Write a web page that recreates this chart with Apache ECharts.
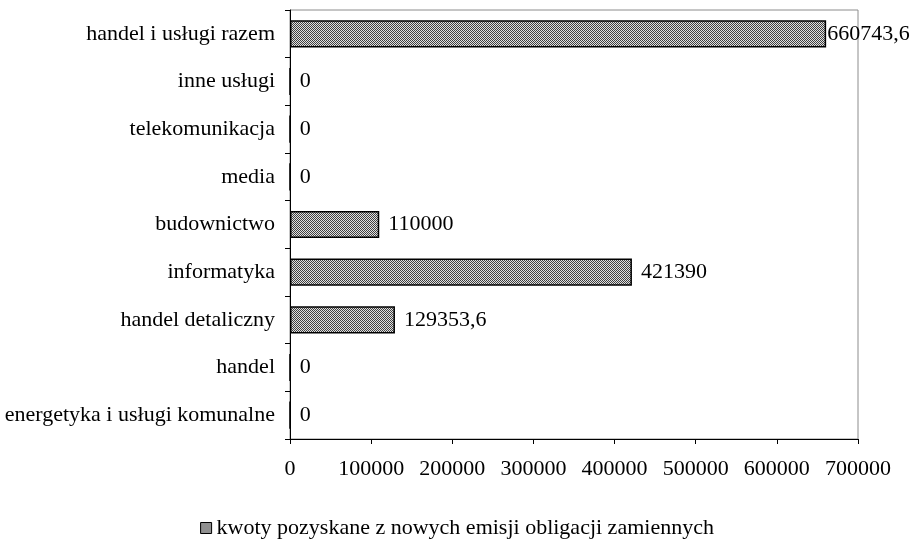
<!DOCTYPE html>
<html>
<head>
<meta charset="utf-8">
<script src="https://cdn.jsdelivr.net/npm/echarts@6/dist/echarts.min.js"></script>
<style>
html,body{margin:0;padding:0;background:#fff;}
#chart{width:914px;height:540px;}
</style>
</head>
<body>
<div id="chart"></div>
<script>
// Sectors, listed bottom-up as they appear on the category axis
const categories = [
  'energetyka i usługi komunalne',
  'handel',
  'handel detaliczny',
  'informatyka',
  'budownictwo',
  'media',
  'telekomunikacja',
  'inne usługi',
  'handel i usługi razem'
];
const amounts = [0, 0, 129353.6, 421390, 110000, 0, 0, 0, 660743.6];
const seriesName = 'kwoty pozyskane z nowych emisji obligacji zamiennych';
const xTicks = [0, 100000, 200000, 300000, 400000, 500000, 600000, 700000];

// Fine checkered fill used for the bars
function makePattern() {
  const c = document.createElement('canvas');
  c.width = 2; c.height = 2;
  const g = c.getContext('2d');
  g.fillStyle = '#e0e0e0'; g.fillRect(0, 0, 2, 2);
  g.fillStyle = '#404040';
  g.fillRect(0, 0, 1, 1);
  g.fillRect(1, 1, 1, 1);
  return c;
}
const fillPattern = { image: makePattern(), repeat: 'repeat' };

const font = '"Liberation Serif", "Times New Roman", serif';
const fontSize = 22;

// Polish decimal comma, no thousands separator
function fmt(v) {
  return String(v).replace('.', ',');
}

const chart = echarts.init(document.getElementById('chart'), null, { renderer: 'canvas' });
chart.setOption({
  animation: false,
  backgroundColor: '#fff',
  textStyle: { fontFamily: font },
  grid: { left: 290, right: 56, top: 10, bottom: 101, containLabel: false, show: true, borderColor: '#8c8c8c', borderWidth: 1 },
  legend: {
    top: 517,
    left: 'center',
    padding: 0,
    itemWidth: 11,
    itemHeight: 11,
    itemGap: 5,
    textStyle: { fontFamily: font, fontSize: fontSize, color: '#000' },
    data: [{ name: seriesName, icon: 'rect', itemStyle: { color: fillPattern, borderColor: '#000', borderWidth: 1 } }]
  },
  xAxis: {
    type: 'value',
    min: xTicks[0],
    max: xTicks[xTicks.length - 1],
    interval: 100000,
    axisLine: { show: true, lineStyle: { color: '#000', width: 1 } },
    axisTick: { show: true, length: 5, lineStyle: { color: '#000' } },
    splitLine: { show: false },
    axisLabel: { margin: 19, fontFamily: font, fontSize: fontSize, color: '#000', formatter: v => String(v) }
  },
  yAxis: {
    type: 'category',
    data: categories,
    axisLine: { show: true, onZero: false, lineStyle: { color: '#000', width: 1 } },
    axisTick: { show: true, length: 5, alignWithLabel: false, lineStyle: { color: '#000' } },
    axisLabel: { margin: 15, fontFamily: font, fontSize: fontSize, color: '#000' }
  },
  series: [{
    name: seriesName,
    type: 'bar',
    barCategoryGap: '43%',
    itemStyle: { color: fillPattern, borderColor: '#000', borderWidth: 1.5 },
    label: {
      show: true,
      position: 'right',
      distance: 9,
      fontFamily: font,
      fontSize: fontSize,
      color: '#000',
      formatter: p => fmt(p.value)
    },
    data: amounts.map((v, i) => i === amounts.length - 1 ? { value: v, label: { distance: 1 } } : v)
  }]
});
</script>
</body>
</html>
